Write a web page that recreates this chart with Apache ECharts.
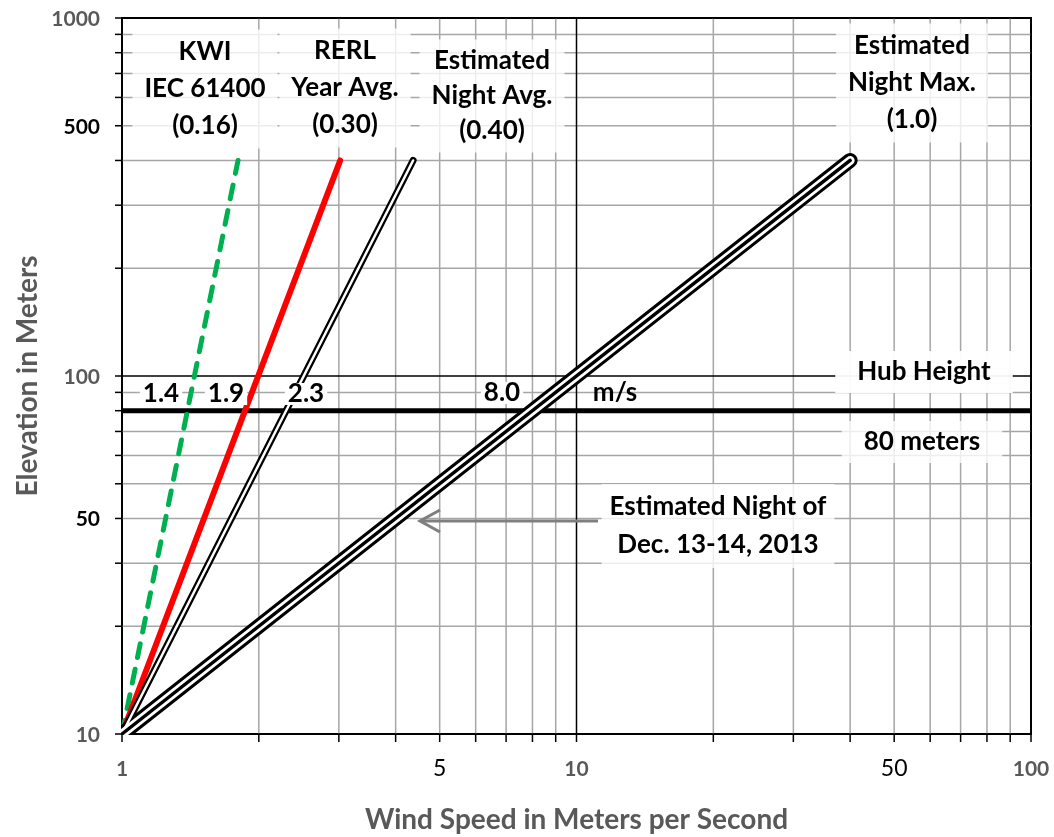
<!DOCTYPE html>
<html>
<head>
<meta charset="utf-8">
<script src="https://cdn.jsdelivr.net/npm/echarts@6/dist/echarts.min.js"></script>
<style>
  html, body { margin: 0; padding: 0; background: #fff; }
  #chart { width: 1054px; height: 837px; }
</style>
</head>
<body>
<div id="chart"></div>
<script>
// Wind shear profiles: speed (m/s) at 10 m and at 400 m for each shear exponent
const heights = [10, 400];
const kwiSpeeds = [1, 1.8];        // alpha 0.16
const rerlSpeeds = [1, 3.02];      // alpha 0.30
const nightAvgSpeeds = [1, 4.37];  // alpha 0.40
const nightMaxSpeeds = [1, 40];    // alpha 1.0

// Hub height and the speeds read at it
const hubHeight = 80;
const hubSpeedTexts = ['1.4', '1.9', '2.3', '8.0', 'm/s'];

// Log-scale grid lines
const xMinorGrid = [2, 3, 4, 5, 6, 7, 8, 9, 20, 30, 40, 50, 60, 70, 80, 90];
const yMinorGrid = [20, 30, 40, 50, 60, 70, 80, 90, 200, 300, 400, 500, 600, 700, 800, 900];
const xMajorGrid = [1, 10, 100];
const yMajorGrid = [10, 100, 1000];

// Tick labels
const xMainTickValues = [1, 10, 100];
const xMainTickTexts = ['1', '10', '100'];
const xMidTickValues = [5, 50];
const xMidTickTexts = ['5', '50'];
const yMainTickValues = [10, 100, 1000];
const yMainTickTexts = ['10', '100', '1000'];
const yMidTickValues = [40, 500];
const yMidTickTexts = ['50', '500'];

const X_MIN = 1, X_MAX = 100, Y_MIN = 10, Y_MAX = 1000;
const FONT = 'Lato, "Open Sans", "DejaVu Sans", sans-serif';

function pairs(xs, ys) { return xs.map((x, i) => [x, ys[i]]); }

// vertical grid line across the plot
function vGrid(color, width) {
  return function (params, api) {
    const v = api.value(0);
    const top = api.coord([v, Y_MAX]);
    const bot = api.coord([v, Y_MIN]);
    return { type: 'line', shape: { x1: top[0], y1: top[1], x2: bot[0], y2: bot[1] }, style: { stroke: color, lineWidth: width } };
  };
}
// horizontal grid line across the plot
function hGrid(color, width) {
  return function (params, api) {
    const v = api.value(1);
    const l = api.coord([X_MIN, v]);
    const r = api.coord([X_MAX, v]);
    return { type: 'line', shape: { x1: l[0], y1: l[1], x2: r[0], y2: r[1] }, style: { stroke: color, lineWidth: width } };
  };
}
// outward tick below the x axis
function xTick(params, api) {
  const p = api.coord([api.value(0), Y_MIN]);
  return { type: 'line', shape: { x1: p[0], y1: p[1], x2: p[0], y2: p[1] + 8 }, style: { stroke: '#000', lineWidth: 1.5 } };
}
// outward tick left of the y axis
function yTick(params, api) {
  const p = api.coord([X_MIN, api.value(1)]);
  return { type: 'line', shape: { x1: p[0] - 7, y1: p[1], x2: p[0], y2: p[1] }, style: { stroke: '#000', lineWidth: 1.5 } };
}
function xLabel(texts, weight, color, size) {
  return function (params, api) {
    const p = api.coord([api.value(0), Y_MIN]);
    return { type: 'text', style: { text: texts[params.dataIndex], x: p[0], y: p[1] + 35, align: 'center', verticalAlign: 'middle', font: weight + ' ' + size + 'px ' + FONT, fill: color } };
  };
}
function yLabel(texts, weight, color, size) {
  return function (params, api) {
    const p = api.coord([X_MIN, api.value(1)]);
    return { type: 'text', style: { text: texts[params.dataIndex], x: p[0] - 22, y: p[1] + 1, align: 'right', verticalAlign: 'middle', font: weight + ' ' + size + 'px ' + FONT, fill: color } };
  };
}

function profile(name, speeds, color, width, z, dash) {
  return {
    name: name, type: 'line', data: pairs(speeds, heights), showSymbol: false, z: z,
    silent: true, animation: false, clip: true,
    lineStyle: { color: color, width: width, cap: 'round', join: 'round', type: dash || 'solid' }
  };
}

const boxFill = 'rgba(255,255,255,0.8)';
function note(text, x, y, lh, z, bg, pad) {
  return {
    type: 'text', z: z || 3, silent: true,
    style: {
      text: text, x: x, y: y, align: 'center', verticalAlign: 'middle',
      font: 'bold 26px ' + FONT, fill: '#000', lineHeight: lh || 37,
      backgroundColor: bg || boxFill, padding: pad || [4, 12]
    }
  };
}

const allXTicks = xMajorGrid.concat(xMinorGrid);
const allYTicks = yMajorGrid.concat(yMinorGrid);

const chart = echarts.init(document.getElementById('chart'));
chart.setOption({
  animation: false,
  grid: {
    left: 122, right: 23, top: 18, bottom: 103, outerBoundsMode: 'none', containLabel: false,
    show: true, borderColor: '#000', borderWidth: 2, backgroundColor: '#fff'
  },
  xAxis: {
    type: 'log', logBase: 10, min: X_MIN, max: X_MAX,
    name: 'Wind Speed in Meters per Second', nameLocation: 'middle', nameGap: 72,
    nameTextStyle: { fontFamily: FONT, fontWeight: 'bold', fontSize: 28, color: '#595959' },
    axisLine: { show: true, lineStyle: { color: '#000', width: 2 } },
    axisTick: { show: false }, axisLabel: { show: false }, splitLine: { show: false }
  },
  yAxis: {
    type: 'log', logBase: 10, min: Y_MIN, max: Y_MAX,
    name: 'Elevation in Meters', nameLocation: 'middle', nameGap: 80,
    nameTextStyle: { fontFamily: FONT, fontWeight: 'bold', fontSize: 28, color: '#595959' },
    axisLine: { show: true, lineStyle: { color: '#000', width: 2 } },
    axisTick: { show: false }, axisLabel: { show: false }, splitLine: { show: false }
  },
  series: [
    { type: 'custom', z: 1, clip: false, silent: true, data: xMinorGrid.map(v => [v, Y_MIN]), renderItem: vGrid('#a6a6a6', 1.5) },
    { type: 'custom', z: 1, clip: false, silent: true, data: yMinorGrid.map(v => [X_MIN, v]), renderItem: hGrid('#a6a6a6', 1.5) },
    { type: 'custom', z: 2, clip: false, silent: true, data: xMajorGrid.map(v => [v, Y_MIN]), renderItem: vGrid('#000', 1.5) },
    { type: 'custom', z: 2, clip: false, silent: true, data: yMajorGrid.map(v => [X_MIN, v]), renderItem: hGrid('#000', 1.5) },
    { type: 'custom', z: 12, clip: false, silent: true, data: allXTicks.map(v => [v, Y_MIN]), renderItem: xTick },
    { type: 'custom', z: 12, clip: false, silent: true, data: allYTicks.map(v => [X_MIN, v]), renderItem: yTick },
    { type: 'custom', z: 12, clip: false, silent: true, data: xMainTickValues.map(v => [v, Y_MIN]), renderItem: xLabel(xMainTickTexts, 'bold', '#595959', 21) },
    { type: 'custom', z: 12, clip: false, silent: true, data: xMidTickValues.map(v => [v, Y_MIN]), renderItem: xLabel(xMidTickTexts, 'normal', '#000', 23) },
    { type: 'custom', z: 12, clip: false, silent: true, data: yMainTickValues.map(v => [X_MIN, v]), renderItem: yLabel(yMainTickTexts, 'bold', '#595959', 21) },
    { type: 'custom', z: 12, clip: false, silent: true, data: yMidTickValues.map(v => [X_MIN, v]), renderItem: yLabel(yMidTickTexts, 'bold', '#000', 21) },
    // hub height line
    { type: 'line', z: 4, silent: true, showSymbol: false, data: [[X_MIN, hubHeight], [X_MAX, hubHeight]], lineStyle: { color: '#000', width: 5 } },
    // profiles
    profile('KWI', kwiSpeeds, '#00b050', 5, 6, [14, 12]),
    profile('RERL', rerlSpeeds, '#ff0000', 6, 6),
    profile('Night Avg', nightAvgSpeeds, '#000', 7, 6),
    profile('Night Avg core', nightAvgSpeeds, '#fff', 2.5, 7),
    profile('Night Max', nightMaxSpeeds, '#000', 15, 6),
    profile('Night Max core', nightMaxSpeeds, '#fff', 9, 7),
    profile('Night Max center', nightMaxSpeeds, '#000', 3.5, 8)
  ],
  graphic: {
    elements: [
      // keep the profile line caps inside the frame at the lower-left corner
      { type: 'rect', z: 11, silent: true, shape: { x: 100, y: 715, width: 21, height: 40 }, style: { fill: '#fff' } },
      { type: 'rect', z: 11, silent: true, shape: { x: 100, y: 735, width: 45, height: 20 }, style: { fill: '#fff' } },
      note('KWI\nIEC 61400\n(0.16)', 205, 89, 37),
      note('RERL\nYear Avg.\n(0.30)', 345, 88, 37),
      note('Estimated\nNight Avg.\n(0.40)', 492, 96, 35),
      note('Estimated\nNight Max.\n(1.0)', 912, 83, 37),
      note('Hub Height', 924, 372, 30, 3, 'rgba(255,255,255,0.95)', [6, 22]),
      note('80 meters', 922, 442, 30, 3, 'rgba(255,255,255,0.8)', [6, 22]),
      note('Estimated Night of\nDec. 13-14, 2013', 718, 526, 38, 3, 'rgba(255,255,255,0.8)', [4, 8]),
      note(hubSpeedTexts[0], 161, 394, 22, 10, '#fff', [0, 3]),
      note(hubSpeedTexts[1], 226, 394, 22, 10, '#fff', [0, 3]),
      note(hubSpeedTexts[2], 306, 394, 22, 10, '#fff', [0, 3]),
      note(hubSpeedTexts[3], 502, 393, 22, 10, '#fff', [0, 3]),
      note(hubSpeedTexts[4], 615, 393, 22, 10, 'rgba(0,0,0,0)', [0, 3]),
      // arrow pointing at the night-max profile
      { type: 'polyline', z: 9, silent: true, shape: { points: [[598, 521], [420, 521]] }, style: { stroke: '#7f7f7f', lineWidth: 3, fill: null } },
      { type: 'polyline', z: 9, silent: true, shape: { points: [[440, 510], [420, 521], [440, 532]] }, style: { stroke: '#7f7f7f', lineWidth: 3, fill: null } }
    ]
  }
});
</script>
</body>
</html>
